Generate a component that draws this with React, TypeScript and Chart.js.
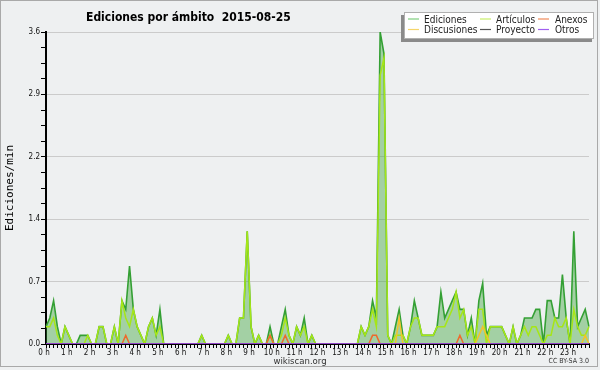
import React, { useEffect, useRef } from 'react';
import { Chart, registerables } from 'chart.js';

Chart.register(...registerables);

const hourLabels = ['0 h','1 h','2 h','3 h','4 h','5 h','6 h','7 h','8 h','9 h','10 h','11 h','12 h','13 h','14 h','15 h','16 h','17 h','18 h','19 h','20 h','21 h','22 h','23 h'];
// 144 ten-minute slots
const slots = Array.from({ length: 144 }, (_, i) => `${Math.floor(i / 6)}:${(i % 6) * 10}`);

const ediciones = [
  0.2,0.3,0.5,0.2,0,0.2, 0.1,0,0,0.1,0.1,0.1, 0,0,0.2,0.2,0,0, 0.2,0,0.5,0.4,0.9,0.4,
  0.2,0.1,0,0.2,0.3,0.1, 0.4,0,0,0,0,0, 0,0,0,0,0,0.1, 0,0,0,0,0,0,
  0.1,0,0,0.3,0.3,1.3, 0.2,0,0.1,0,0,0.2, 0,0,0.2,0.4,0.1,0, 0.2,0.1,0.3,0,0.1,0,
  0,0,0,0,0,0, 0,0,0,0,0,0.2, 0.1,0.2,0.5,0.3,3.6,3.35, 0.1,0,0.2,0.4,0.1,0,
  0.2,0.5,0.3,0.1,0.1,0.1, 0.1,0.2,0.6,0.3,0.4,0.5, 0.6,0.4,0.4,0.1,0.3,0, 0.5,0.7,0.1,0.2,0.2,0.2,
  0.2,0.1,0,0.2,0,0.1, 0.3,0.3,0.3,0.4,0.4,0, 0.5,0.5,0.3,0.3,0.8,0.3, 0,1.3,0.2,0.3,0.4,0.2,
];
const articulos = [
  0.2,0.2,0.3,0.1,0,0.2, 0.1,0,0,0,0,0.1, 0,0,0.2,0.2,0,0, 0.2,0,0.5,0.3,0.2,0.4,
  0.2,0.1,0,0.2,0.3,0.1, 0.2,0,0,0,0,0, 0,0,0,0,0,0.1, 0,0,0,0,0,0,
  0.1,0,0,0.3,0.3,1.3, 0.2,0,0.1,0,0,0.1, 0,0,0.1,0.3,0.1,0, 0.2,0.1,0.2,0,0.1,0,
  0,0,0,0,0,0, 0,0,0,0,0,0.2, 0.1,0.2,0.4,0.2,3.1,3.3, 0.1,0,0.1,0.1,0.1,0,
  0.2,0.3,0.3,0.1,0.1,0.1, 0.1,0.2,0.2,0.2,0.3,0.4, 0.6,0.3,0.4,0.1,0.2,0, 0.4,0.4,0,0.2,0.2,0.2,
  0.2,0.1,0,0.2,0,0.1, 0.2,0.1,0.2,0.2,0.1,0, 0.1,0.1,0.3,0.2,0.2,0.3, 0,0.4,0.2,0.1,0.1,0.2,
];
const anexosIdx = [21, 59, 63, 86, 87, 109];
const anexosVal = [0.1, 0.1, 0.1, 0.1, 0.1, 0.1];
const discusionesIdx = [93, 114, 115, 116, 142];
const discusionesVal = [0.3, 0.1, 0.2, 0.1, 0.1];
const proyecto: number[] = new Array(144).fill(0);
const otros: number[] = new Array(144).fill(0);

const sparse = (idx: number[], val: number[]) => {
  const a = new Array(144).fill(0);
  idx.forEach((k, j) => { a[k] = val[j]; });
  return a;
};
const anexos = sparse(anexosIdx, anexosVal);
const discusiones = sparse(discusionesIdx, discusionesVal);

const COND = "'DejaVu Sans Condensed', 'DejaVu Sans', sans-serif";

const C = {
  ediciones: '#34a034',
  articulos: '#a6e617',
  anexos: '#ee6a2c',
  discusiones: '#f2c42a',
  proyecto: '#555555',
  otros: '#9a3ff0',
};

const legendItems = [
  { label: 'Ediciones', color: '#7fcf7f', col: 0, row: 0 },
  { label: 'Artículos', color: '#c8ef6a', col: 1, row: 0 },
  { label: 'Anexos', color: '#f08a5a', col: 2, row: 0 },
  { label: 'Discusiones', color: '#f5d56a', col: 0, row: 1 },
  { label: 'Proyecto', color: '#555555', col: 1, row: 1 },
  { label: 'Otros', color: '#a060f0', col: 2, row: 1 },
];

const decor = {
  id: 'decor',
  beforeDraw(chart: any) {
    const { ctx, width, height } = chart;
    ctx.save();
    ctx.fillStyle = '#eef0f1';
    ctx.fillRect(0, 0, width, height);
    ctx.strokeStyle = '#a9a9a9';
    ctx.lineWidth = 1;
    ctx.strokeRect(0.5, 0.5, 597, 366);
    ctx.restore();
  },
  afterDraw(chart: any) {
    const { ctx } = chart;
    ctx.save();
    // title
    ctx.fillStyle = '#000';
    ctx.font = `bold 12px ${COND}`;
    ctx.textBaseline = 'alphabetic';
    ctx.textAlign = 'left';
    ctx.fillText('Ediciones por ámbito  2015-08-25', 86, 21);
    // legend
    ctx.fillStyle = '#8a8a8a';
    ctx.fillRect(401, 15, 191, 27);
    ctx.fillStyle = '#ffffff';
    ctx.fillRect(404, 12, 190, 27);
    ctx.strokeStyle = '#b0b0b0';
    ctx.lineWidth = 1;
    ctx.strokeRect(404.5, 12.5, 189, 26);
    const lineX = [408, 480, 538];
    const textX = [424, 496, 555];
    const lineY = [19, 29.5];
    const textY = [22.5, 32.5];
    ctx.font = `10px ${COND}`;
    legendItems.forEach((it) => {
      ctx.strokeStyle = it.color;
      ctx.lineWidth = 1.2;
      ctx.beginPath();
      ctx.moveTo(lineX[it.col], lineY[it.row]);
      ctx.lineTo(lineX[it.col] + 11, lineY[it.row]);
      ctx.stroke();
      ctx.fillStyle = '#222';
      ctx.fillText(it.label, textX[it.col], textY[it.row]);
    });
    // footer
    ctx.fillStyle = '#333';
    ctx.font = `9.5px ${COND}`;
    ctx.textAlign = 'center';
    ctx.fillText('wikiscan.org', 300, 364);
    ctx.font = `7px ${COND}`;
    ctx.textAlign = 'right';
    ctx.fillText('CC BY-SA 3.0', 589, 363);
    ctx.restore();
  },
};

export default function App() {
  const ref = useRef<HTMLCanvasElement>(null);
  useEffect(() => {
    document.body.style.margin = '0';
    const line = (label: string, data: number[], color: string, order: number, extra: any = {}) => ({
      label, data, borderColor: color, borderWidth: 1.5, pointRadius: 0, tension: 0, fill: false, order, ...extra,
    });
    const chart = new Chart(ref.current!, {
      type: 'line',
      data: {
        labels: slots,
        datasets: [
          line('Ediciones', ediciones, C.ediciones, 6, { fill: 'origin', backgroundColor: 'rgba(50,160,50,0.4)', borderWidth: 1.6 }),
          line('Artículos', articulos, C.articulos, 5),
          line('Discusiones', discusiones, C.discusiones, 4),
          line('Anexos', anexos, C.anexos, 3),
          line('Proyecto', proyecto, C.proyecto, 2),
          line('Otros', otros, C.otros, 1),
        ],
      },
      options: {
        responsive: false,
        animation: false,
        devicePixelRatio: 1,
        layout: { padding: { top: 32, right: 11, bottom: 0, left: 0 } },
        plugins: { legend: { display: false }, tooltip: { enabled: false }, title: { display: false } },
        scales: {
          x: {
            z: 1,
            afterFit: (s: any) => { s.height = 26; },
            grid: { drawOnChartArea: false, color: '#000', tickColor: '#000', tickLength: 4, lineWidth: 1 },
            border: { display: true, color: '#000', width: 2 },
            ticks: {
              autoSkip: false, maxRotation: 0, minRotation: 0, padding: 0, labelOffset: -2,
              color: '#111', font: { family: COND, size: 8 },
              callback: (_v: any, i: number) => (i % 6 === 0 ? hourLabels[i / 6] : ''),
            },
          },
          y: {
            min: 0, max: 3.6,
            afterFit: (s: any) => { s.width = 46; },
            grid: {
              color: (c: any) => (c.index % 4 === 0 ? '#cbcbcb' : 'rgba(0,0,0,0)'),
              tickColor: '#000', tickLength: 5, lineWidth: 1,
            },
            border: { display: true, color: '#000', width: 2 },
            title: { display: true, text: 'Ediciones/min', color: '#000', font: { family: "'DejaVu Sans Mono', monospace", size: 11 }, padding: { top: 4, bottom: 0 } },
            ticks: {
              stepSize: 0.18, padding: 1, color: '#111', font: { family: COND, size: 8 },
              callback: (v: any, i: number) => (i % 4 === 0 ? Number(v).toFixed(1) : ''),
            },
          },
        },
      },
      plugins: [decor],
    });
    return () => chart.destroy();
  }, []);
  return <canvas ref={ref} width={600} height={370} style={{ display: 'block' }} />;
}
